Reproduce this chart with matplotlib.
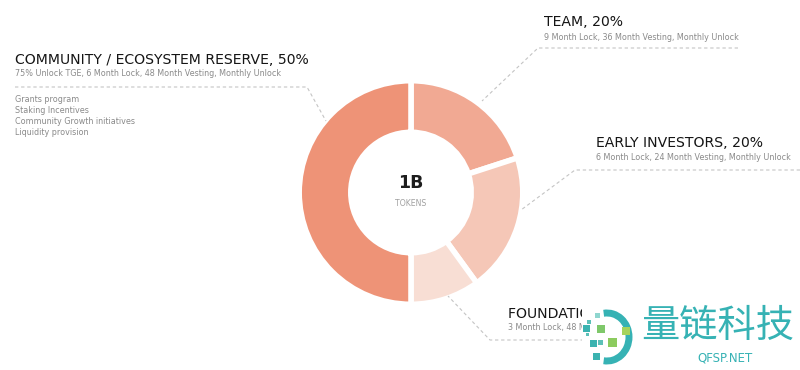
import matplotlib.pyplot as plt
from matplotlib.patches import Rectangle, Arc

plt.rcParams['font.family'] = ['DejaVu Sans', 'Noto Sans CJK SC']

# allocation, clockwise from 12 o'clock
labels = ["TEAM", "EARLY INVESTORS", "FOUNDATION", "COMMUNITY / ECOSYSTEM RESERVE"]
shares = [20, 20, 10, 50]
colors = ["#F1A993", "#F5C7B7", "#F8DED4", "#EE9377"]
terms = [
    "9 Month Lock, 36 Month Vesting, Monthly Unlock",
    "6 Month Lock, 24 Month Vesting, Monthly Unlock",
    "3 Month Lock, 48 Month Vesting, Monthly Unlock",
    "75% Unlock TGE, 6 Month Lock, 48 Month Vesting, Monthly Unlock",
]
community_uses = ["Grants program", "Staking Incentives",
                  "Community Growth initiatives", "Liquidity provision"]
total_label = "1B"

H = 370


def Y(y):
    # pixel row from the top -> data y
    return H - y


fig = plt.figure(figsize=(8, 3.7), dpi=100)
ax = fig.add_axes([0, 0, 1, 1])

cx, cy = 411, Y(192.5)
ax.pie(shares, colors=colors, startangle=90, counterclock=False,
       center=(cx, cy), radius=111.8,
       wedgeprops=dict(width=51.6, edgecolor="white", linewidth=4))
ax.set_xlim(0, 800)
ax.set_ylim(0, H)
ax.set_aspect("equal")
ax.axis("off")

ax.text(cx, cy + 9.5, total_label, ha="center", va="center", fontsize=12.5,
        fontweight="bold", color="#1d1d1d")
ax.text(cx, cy - 10.5, "TOKENS", ha="center", va="center", fontsize=5.6,
        color="#a0a0a0")

title_kw = dict(fontsize=10.1, color="#151515", va="center", ha="left")
sub_kw = dict(fontsize=5.8, color="#8a8a8a", va="center", ha="left")
dash_kw = dict(color="#c4c4c4", lw=0.8, ls=(0, (3, 2.5)))

# watermark covers everything right of x=582 at the bottom
cover = Rectangle((0, 0), 582, H, transform=ax.transData)

# (title x, title y, sub y, leader polyline)
layout = [
    (544, 22, 37, [(738, 48), (538, 48), (482, 101)]),
    (596, 143, 157, [(800, 170), (575, 170), (521, 210)]),
    (508, 314, 328, [(700, 340), (490, 340), (448, 296)]),
    (15, 60, 74, [(15, 87), (307, 87), (326, 121)]),
]
for lab, share, term, (tx, ty, sy, pts) in zip(labels, shares, terms, layout):
    t1 = ax.text(tx, Y(ty), f"{lab}, {share}%", **title_kw)
    t2 = ax.text(tx, Y(sy), term, **sub_kw)
    if lab == "FOUNDATION":
        t1.set_clip_path(cover)
        t2.set_clip_path(cover)
    ax.plot([p[0] for p in pts], [Y(p[1]) for p in pts], **dash_kw)

for i, item in enumerate(community_uses):
    ax.text(15, Y(100 + i * 10.7), item, **sub_kw)

# watermark overlay
teal = "#36B2B4"
ax.add_patch(Rectangle((582, 0), 218, Y(298), facecolor="white",
                       edgecolor="none", zorder=5))
ax.add_patch(Arc((607, Y(337)), 44, 48, theta1=-98, theta2=98,
                 color=teal, lw=5, zorder=6))
squares = [
    (587, 320, 3.5, "#5CC0B8"), (595, 313, 5, "#8FD6CF"), (583, 325, 7, "#3BB3B0"),
    (597, 325, 8, "#7FC86A"), (622, 327, 8, "#A6D35C"), (590, 340, 7, "#3BB3B0"),
    (598, 340, 5, "#5CC0B8"), (608, 338, 9, "#8CCB5E"), (593, 353, 7, "#3BB3B0"),
    (586, 333, 3, "#5CC0B8"),
]
for sx, sy, s, c in squares:
    ax.add_patch(Rectangle((sx, Y(sy) - s), s, s, facecolor=c,
                           edgecolor="none", zorder=6))
ax.text(718, Y(326), "量链科技", ha="center", va="center", fontsize=27.5,
        color=teal, zorder=7, family=["Noto Sans CJK SC", "DejaVu Sans"])
ax.text(725, Y(358), "QFSP.NET", ha="center", va="center", fontsize=8.5,
        color=teal, zorder=7)

fig.savefig("out.png", dpi=100, facecolor="white")
